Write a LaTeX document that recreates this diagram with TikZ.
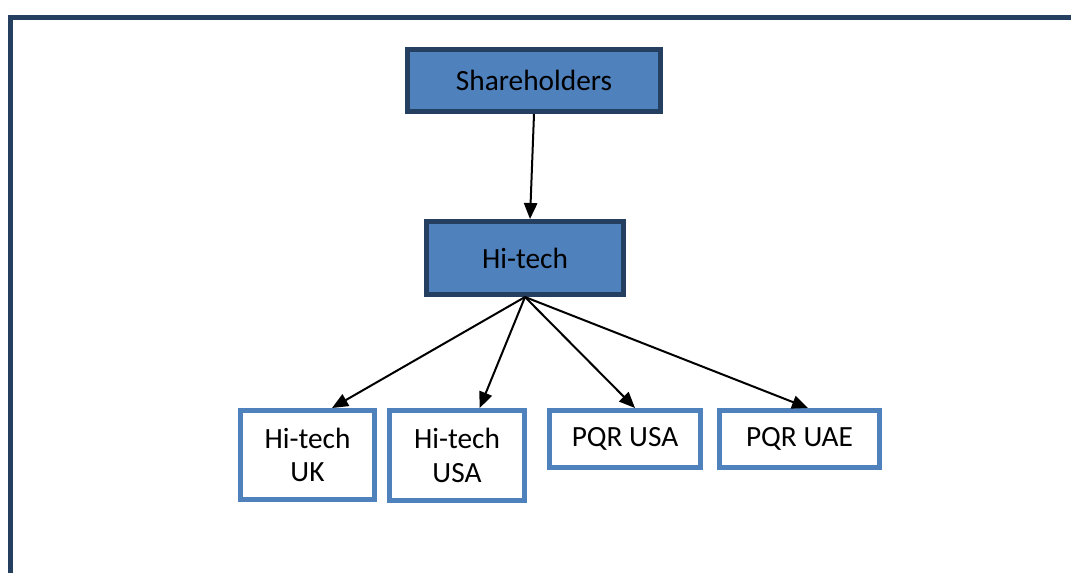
\documentclass[tikz,border=0pt]{standalone}
\usepackage{fontspec}
\setmainfont{Carlito}
\usetikzlibrary{arrows.meta}

\definecolor{boxblue}{HTML}{4F81BD}
\definecolor{boxdark}{HTML}{243F60}

\tikzset{
  topbox/.style={draw=boxdark, fill=boxblue, line width=3.75pt, inner sep=0pt},
  subbox/.style={draw=boxblue, fill=white, line width=3.75pt, inner sep=0pt, align=center},
  link/.style={line width=1.5pt, -{Triangle[length=12pt,width=10pt]}}
}

\begin{document}
\begin{tikzpicture}[x=0.75pt, y=-0.75pt, font=\fontsize{22}{25}\selectfont]
  \useasboundingbox (0,0) rectangle (1071,572);
  % frame
  \draw[boxdark, line width=3.75pt] (10.5,580) -- (10.5,17.5) -- (1080,17.5);

  \node[topbox, minimum width=189.75pt, minimum height=46.5pt] (share) at (534,80.5) {Shareholders};
  \node[topbox, minimum width=147.75pt, minimum height=54.75pt] (hitech) at (525,258) {Hi-tech};

  \node[subbox, minimum width=100.5pt, minimum height=66.75pt] (hiuk) at (307.5,455) {Hi-tech\\UK};
  \node[subbox, minimum width=101.25pt, minimum height=67.5pt] (hiusa) at (457,455.5) {Hi-tech\\USA};
  \node[subbox, minimum width=113.25pt, minimum height=42.75pt] (pqrusa) at (625,439) {PQR USA};
  \node[subbox, minimum width=120pt, minimum height=42.75pt] (pqruae) at (799.5,439) {PQR UAE};

  \draw[link] (share.south) -- ([xshift=3.75pt]hitech.north);
  \draw[link] (hitech.south) -- ([xshift=18.4pt]hiuk.north);
  \draw[link] (hitech.south) -- ([xshift=17pt]hiusa.north);
  \draw[link] (hitech.south) -- ([xshift=7.5pt]pqrusa.north);
  \draw[link] (hitech.south) -- ([xshift=6.4pt]pqruae.north);
\end{tikzpicture}
\end{document}
